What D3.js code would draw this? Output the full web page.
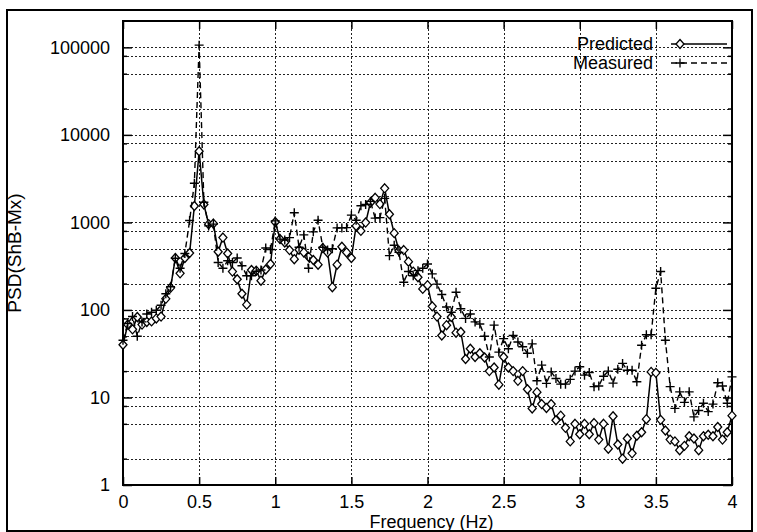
<!DOCTYPE html>
<html><head><meta charset="utf-8">
<script src="https://cdn.jsdelivr.net/npm/d3@7"></script>
<style>
body{margin:0;background:#fff}
svg{display:block}
text{font-family:"Liberation Sans",Arial,Helvetica,sans-serif;fill:#000}
</style>
</head><body>
<svg id="c" width="757" height="532"></svg>
<script>
// ---- data ----
const freqStep = 0.03125; // Hz between spectral lines (0 .. 4 Hz)
const predicted = [40,68,60,83,68,73,74,80,84,134,179,392,262,392,447,1540,6500,1600,955,970,
  462,671,442,274,224,153,115,286,281,216,290,335,1010,645,590,483,380,487,454,405,
  372,329,509,454,182,329,527,454,392,912,800,995,1680,1910,1620,2450,1240,754,474,483,
  356,274,236,174,192,110,84,51,67,83,55,56,27.5,36,29,32,28.6,20,22,14,
  29,22,20,15.5,20,12.4,7.5,11.5,8.4,7.6,8.4,5.5,6.2,4.5,3.15,5.0,3.8,5.0,3.8,5.1,
  3.3,5.0,2.6,6.1,2.9,2.0,3.4,2.3,3.65,4.0,5.65,19.6,19.1,5.55,4.2,3.3,3.15,2.5,2.8,3.6,
  3.4,2.5,3.6,3.75,3.6,4.6,3.3,4.0,6.2];
const measured = [45,70,84,50,73,90,94,99,113,153,184,389,300,442,1050,2800,106000,1700,912,955,
  349,300,365,349,392,320,246,246,277,286,510,490,1040,645,630,671,1290,520,720,300,
  780,1060,520,485,500,866,866,872,1210,1060,1550,1600,1740,1120,1135,1880,417,548,455,207,
  275,246,281,300,335,258,197,150,108,94,159,103,80,90,73,69,50,29,67,33,
  47,36,51,43,38,32,41,15.5,23.4,14.5,19.6,16.5,14.2,14.2,16.1,20,22.4,18,19.3,13.3,
  13.5,17.5,20,14.6,21,24.5,20.5,20.5,15.1,39.5,52,52,177,275,45,13.3,7.5,11.6,8.8,11.6,
  6.0,7.1,8.6,6.9,8.4,14.7,13.5,8.6,17.2];
const xTicks = [0,0.5,1,1.5,2,2.5,3,3.5,4];
const yTicks = [1,10,100,1000,10000,100000];
const yMinorMult = [2,5,8];
const seriesNames = ["Predicted","Measured"];
const xLabel = "Frequency (Hz)";
const yLabel = "PSD(ShB-Mx)";

// ---- layout ----
const L = 123, R = 732, T = 21, B = 485;
const svg = d3.select("#c");
const x = d3.scaleLinear().domain([0,4]).range([L,R]);
const y = d3.scaleLog().domain([1,200000]).range([B,T]);

// outer frame
svg.append("rect").attr("x",7).attr("y",10).attr("width",745).attr("height",521)
  .attr("fill","none").attr("stroke","#000").attr("stroke-width",2);

// grid
const gridY = [];
yTicks.forEach(t => { gridY.push(t); yMinorMult.forEach(m => { if (t*m < 200000) gridY.push(t*m); }); });
const grid = svg.append("g").attr("stroke","#222").attr("stroke-width",1).attr("stroke-dasharray","2,2");
grid.selectAll("line.h").data(gridY.filter(v => v > 1)).join("line")
  .attr("x1",L).attr("x2",R).attr("y1",d=>Math.round(y(d))+0.5).attr("y2",d=>Math.round(y(d))+0.5);
grid.selectAll("line.v").data(xTicks.filter(v => v>0 && v<4)).join("line")
  .attr("y1",T).attr("y2",B).attr("x1",d=>Math.round(x(d))+0.5).attr("x2",d=>Math.round(x(d))+0.5);

// axes
const fontSize = 18;
svg.append("g").attr("transform",`translate(0,${B})`)
  .call(d3.axisBottom(x).tickValues(xTicks).tickFormat(d3.format("")).tickSizeInner(-8).tickSizeOuter(0).tickPadding(10));
svg.append("g").attr("transform",`translate(${L},0)`)
  .call(d3.axisLeft(y).tickValues(yTicks).tickFormat(d3.format("d")).tickSizeInner(-9).tickSizeOuter(0).tickPadding(13));
svg.append("g").attr("transform",`translate(${R},0)`)
  .call(d3.axisRight(y).tickValues(yTicks).tickFormat("").tickSizeInner(-9).tickSizeOuter(0));
svg.append("g").attr("transform",`translate(0,${T})`)
  .call(d3.axisTop(x).tickValues(xTicks).tickFormat("").tickSizeInner(-8).tickSizeOuter(0));
// minor y ticks
const minors = gridY.filter(v => !yTicks.includes(v));
svg.append("g").attr("transform",`translate(${L},0)`)
  .call(d3.axisLeft(y).tickValues(minors).tickFormat("").tickSizeInner(-4).tickSizeOuter(0));
svg.append("g").attr("transform",`translate(${R},0)`)
  .call(d3.axisRight(y).tickValues(minors).tickFormat("").tickSizeInner(-4).tickSizeOuter(0));
svg.selectAll(".domain").remove();
svg.selectAll(".tick line").attr("stroke","#000").attr("stroke-width",1.5);
svg.selectAll(".tick text").attr("font-size",fontSize).attr("font-family",'"Liberation Sans",Arial,sans-serif').attr("fill","#000");

// border
svg.append("rect").attr("x",L).attr("y",T).attr("width",R-L).attr("height",B-T)
  .attr("fill","none").attr("stroke","#000").attr("stroke-width",2);

// axis labels
svg.append("text").attr("x",(L+R)/2 + 4).attr("y",528).attr("text-anchor","middle")
  .attr("font-size",fontSize).text(xLabel);
svg.append("text").attr("transform",`translate(21,${(T+B)/2}) rotate(-90)`).attr("text-anchor","middle")
  .attr("font-size",19).text(yLabel);

// series
const pts = arr => arr.map((v,i) => ({f: i*freqStep, v}));
const line = d3.line().x(d=>x(d.f)).y(d=>y(d.v));
const diamond = "M0,-4.5L4,0L0,4.5L-4,0Z";
const cross = "M-4.5,0H4.5M0,-4.5V4.5";

const gP = svg.append("g");
gP.append("path").datum(pts(predicted)).attr("d",line).attr("fill","none")
  .attr("stroke","#000").attr("stroke-width",1.5);
gP.selectAll("path.m").data(pts(predicted)).join("path").attr("class","m")
  .attr("transform",d=>`translate(${x(d.f)},${y(d.v)})`).attr("d",diamond)
  .attr("fill","#fff").attr("stroke","#000").attr("stroke-width",1.3);

const gM = svg.append("g");
gM.append("path").datum(pts(measured)).attr("d",line).attr("fill","none")
  .attr("stroke","#000").attr("stroke-width",1.4).attr("stroke-dasharray","6,4");
gM.selectAll("path.m").data(pts(measured)).join("path").attr("class","m")
  .attr("transform",d=>`translate(${x(d.f)},${y(d.v)})`).attr("d",cross)
  .attr("fill","none").attr("stroke","#000").attr("stroke-width",1.4);

// legend
const legY = [44, 63];
const lg = svg.append("g");
seriesNames.forEach((name,i) => {
  const yy = legY[i];
  lg.append("text").attr("x",653).attr("y",yy+6).attr("text-anchor","end").attr("font-size",fontSize).text(name);
  lg.append("line").attr("x1",671).attr("x2",727).attr("y1",yy).attr("y2",yy)
    .attr("stroke","#000").attr("stroke-width", i===0?1.5:1.4).attr("stroke-dasharray", i===0?null:"6,4");
  lg.append("path").attr("transform",`translate(680,${yy})`).attr("d", i===0?diamond:cross)
    .attr("fill", i===0?"#fff":"none").attr("stroke","#000").attr("stroke-width",1.3);
});
</script>
</body></html>
